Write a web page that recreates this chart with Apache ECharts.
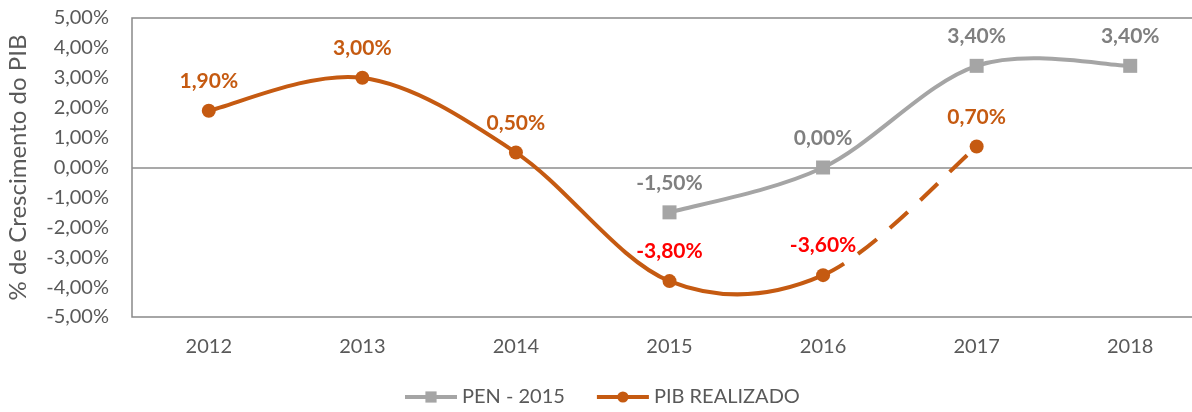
<!DOCTYPE html>
<html>
<head>
<meta charset="utf-8">
<script src="https://cdn.jsdelivr.net/npm/echarts@6/dist/echarts.min.js"></script>
<style>
html,body{margin:0;padding:0;background:#fff;}
#chart{width:1192px;height:412px;}
</style>
</head>
<body>
<div id="chart"></div>
<script>
const categories = ['2012','2013','2014','2015','2016','2017','2018'];
const penValues = [null, null, null, -1.5, 0.0, 3.4, 3.4];
const pibValues = [1.9, 3.0, 0.5, -3.8, -3.6, 0.7, null];
const pibDashedFrom = 4; // segment 2016 -> 2017 is dashed (projection)
const yTicks = [-5,-4,-3,-2,-1,0,1,2,3,4,5];

const ORANGE = '#C55A11', GRAY = '#A5A5A5', RED = '#FF0000', TXT = '#595959', LBLGRAY = '#7F7F7F';
const FONT = 'Lato, "Open Sans", sans-serif';
const fmt = v => v.toFixed(2).replace('.', ',') + '%';

const chart = echarts.init(document.getElementById('chart'));
const splitColors = yTicks.map(t => t === 0 ? '#8c8c8c' : 'rgba(0,0,0,0)');

// smooth curve (Catmull-Rom style, like spreadsheet smoothing) drawn through the axis scales
function curveSeries(values, color, dashFrom) {
  const segs = [];
  for (let i = 0; i < values.length - 1; i++) {
    if (values[i] != null && values[i + 1] != null) segs.push([i, values[i]]);
  }
  return {
    type: 'custom', coordinateSystem: 'cartesian2d', silent: true, z: 2, clip: false,
    encode: { x: 0, y: 1 },
    data: segs,
    renderItem: function (params, api) {
      const i = api.value(0);
      const pt = k => api.coord([k, values[k]]);
      const p1 = pt(i), p2 = pt(i + 1);
      const p0 = (i - 1 >= 0 && values[i - 1] != null) ? pt(i - 1) : p1;
      const p3 = (i + 2 < values.length && values[i + 2] != null) ? pt(i + 2) : p2;
      const dashed = dashFrom != null && i >= dashFrom;
      return {
        type: 'bezierCurve',
        shape: {
          x1: p1[0], y1: p1[1], x2: p2[0], y2: p2[1],
          cpx1: p1[0] + (p2[0] - p0[0]) / 6, cpy1: p1[1] + (p2[1] - p0[1]) / 6,
          cpx2: p2[0] - (p3[0] - p1[0]) / 6, cpy2: p2[1] - (p3[1] - p1[1]) / 6
        },
        style: { stroke: color, lineWidth: 4, fill: null, lineDash: dashed ? [24, 17] : null, lineCap: 'butt' }
      };
    }
  };
}

const labelBase = { show: true, position: 'top', distance: 12, fontWeight: 'bold', fontSize: 21, fontFamily: FONT, formatter: p => fmt(p.value) };

chart.setOption({
  animation: false,
  backgroundColor: '#fff',
  grid: { left: 132, width: 1075, top: 18, bottom: 95, show: true, borderColor: '#898989', borderWidth: 1.5, containLabel: false, outerBoundsMode: 'none' },
  legend: {
    bottom: 0, left: 398,
    data: ['PEN - 2015', 'PIB REALIZADO'],
    itemWidth: 52, itemHeight: 14, itemGap: 30,
    lineStyle: { opacity: 1, width: 4 },
    textStyle: { color: TXT, fontSize: 20, fontFamily: FONT }
  },
  xAxis: {
    type: 'category', data: categories, boundaryGap: true,
    axisLine: { show: false, onZero: false }, axisTick: { show: false },
    axisLabel: { color: TXT, fontSize: 20, fontFamily: FONT, margin: 20 }
  },
  yAxis: {
    type: 'value', min: -5, max: 5, interval: 1,
    name: '% de Crescimento do PIB', nameLocation: 'middle', nameRotate: 90, nameGap: 102,
    nameTextStyle: { color: TXT, fontSize: 24, fontFamily: FONT },
    axisLine: { show: false }, axisTick: { show: false },
    axisLabel: { color: TXT, fontSize: 20, fontFamily: FONT, margin: 23, formatter: v => fmt(v) },
    splitLine: { show: true, lineStyle: { color: splitColors, width: 1.5 } }
  },
  series: [
    curveSeries(penValues, GRAY, null),
    curveSeries(pibValues, ORANGE, pibDashedFrom),
    {
      name: 'PEN - 2015', type: 'line', data: penValues,
      symbol: 'rect', symbolSize: 14, itemStyle: { color: GRAY },
      lineStyle: { color: GRAY, width: 4, opacity: 0 },
      label: Object.assign({}, labelBase, { color: LBLGRAY }),
      z: 3
    },
    {
      name: 'PIB REALIZADO', type: 'line',
      symbol: 'circle', symbolSize: 14, itemStyle: { color: ORANGE },
      lineStyle: { color: ORANGE, width: 4, opacity: 0 },
      label: Object.assign({}, labelBase, { color: ORANGE }),
      data: pibValues.map(v => v == null ? null : ({ value: v, label: { color: v < 0 ? RED : ORANGE } })),
      z: 4
    }
  ]
});
</script>
</body>
</html>
